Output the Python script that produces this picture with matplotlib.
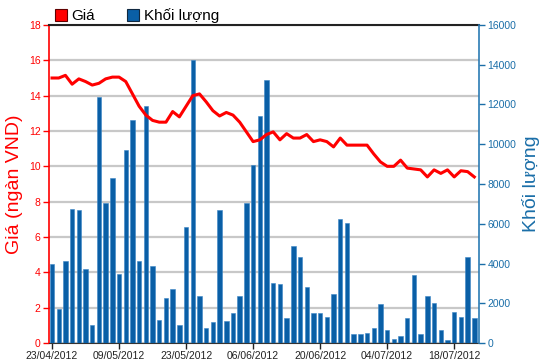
import numpy as np
import matplotlib
matplotlib.use("Agg")
import matplotlib.pyplot as plt
from matplotlib.patches import Patch

plt.rcParams['font.family'] = ['Liberation Sans', 'DejaVu Sans']

# gia (ngan VND), one value per trading day from 23/04/2012
price = [15.0, 15.0, 15.15, 14.65, 14.95, 14.8, 14.6, 14.7, 14.95, 15.05,
         15.05, 14.8, 14.1, 13.4, 12.9, 12.6, 12.5, 12.5, 13.1, 12.8,
         13.4, 14.0, 14.1, 13.65, 13.15, 12.85, 13.05, 12.9, 12.5, 11.95,
         11.4, 11.5, 11.8, 11.95, 11.5, 11.85, 11.6, 11.6, 11.8, 11.4,
         11.5, 11.4, 11.1, 11.6, 11.2, 11.2, 11.2, 11.2, 10.7, 10.25,
         10.0, 10.0, 10.35, 9.9, 9.85, 9.8, 9.4, 9.8, 9.6, 9.8,
         9.4, 9.75, 9.7, 9.4]

# khoi luong
volume = [3950, 1700, 4140, 6760, 6680, 3740, 920, 12390, 7060, 8280,
          3490, 9700, 11240, 4125, 11940, 3860, 1135, 2270, 2705, 920,
          5845, 14230, 2340, 750, 1050, 6700, 1100, 1490, 2340, 7060,
          8970, 11420, 13210, 3020, 2960, 1235, 4890, 4310, 2840, 1490,
          1490, 1300, 2455, 6230, 6030, 450, 450, 520, 750, 1940,
          670, 220, 335, 1235, 3400, 470, 2340, 2000, 670, 170,
          1550, 1300, 4310, 1235]

tick_pos = [0, 10, 20, 30, 40, 50, 60]
tick_labels = ['23/04/2012', '09/05/2012', '23/05/2012', '06/06/2012',
               '20/06/2012', '04/07/2012', '18/07/2012']

red = '#ff0000'
blue = '#0a5fa6'
blue_txt = '#1a6ea8'

x = np.arange(len(price))

fig = plt.figure(figsize=(5.5, 3.64), dpi=100)
pos = [49 / 550, 1 - 343 / 364, 430 / 550, 318 / 364]

# back axis: price scale, grid and left ticks
ax = fig.add_axes(pos)
ax.set_xlim(-0.45, 63.7)
ax.set_ylim(0, 18)
ax.set_yticks(range(0, 19, 2))
ax.grid(axis='y', color='#c8c8c8', linewidth=1.6)
ax.set_axisbelow(True)
ax.tick_params(axis='y', colors=red, labelsize=7.5, length=4, width=1, pad=2)
ax.tick_params(axis='x', labelsize=7.5, length=4, width=1, pad=2, colors='#222222')
ax.set_xticks(tick_pos)
ax.set_xticklabels(tick_labels)
ax.spines['left'].set_color(red)
ax.spines['left'].set_linewidth(1.2)
ax.spines['top'].set_color('#222222')
ax.spines['top'].set_linewidth(1.5)
ax.spines['right'].set_visible(False)
ax.spines['bottom'].set_color('#333333')
ax.set_ylabel('Giá (ngàn VND)', color=red, fontsize=14, labelpad=4)

# volume bars on the right scale
ax2 = ax.twinx()
ax2.set_zorder(ax.get_zorder() + 1)
ax2.patch.set_visible(False)
ax2.bar(x, volume, width=0.66, color=blue, edgecolor='#3b86c6', linewidth=0.4)
ax2.set_ylim(0, 16000)
ax2.set_yticks(range(0, 16001, 2000))
ax2.tick_params(axis='y', colors=blue_txt, labelsize=7.5, length=4, width=1, pad=2)
ax2.spines['right'].set_color('#2b7bb4')
ax2.spines['right'].set_linewidth(1.2)
ax2.spines['left'].set_visible(False)
ax2.spines['top'].set_visible(False)
ax2.spines['bottom'].set_visible(False)
ax2.set_ylabel('Khối lượng', color=blue_txt, fontsize=14, labelpad=4)

# price line on top
ax3 = fig.add_axes(pos, sharex=ax, sharey=ax)
ax3.set_zorder(ax2.get_zorder() + 1)
ax3.patch.set_visible(False)
ax3.plot(x, price, color=red, linewidth=2.2, solid_joinstyle='round')
ax3.axis('off')

handles = [Patch(facecolor=red, edgecolor='#600000', linewidth=0.8),
           Patch(facecolor=blue, edgecolor='#102840', linewidth=0.8)]
fig.legend(handles, ['Giá', 'Khối lượng'], loc='upper left',
           bbox_to_anchor=(41 / 550, 1.015), ncol=2, frameon=False,
           fontsize=11, handlelength=0.8, handleheight=0.9,
           handletextpad=0.3, columnspacing=2.1)

fig.savefig('out.png', dpi=100)
